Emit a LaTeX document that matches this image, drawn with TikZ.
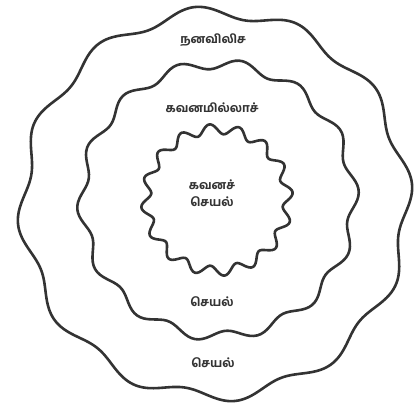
\documentclass[tikz,border=0pt]{standalone}
\usepackage{fontspec}
\newfontfamily\tamil[Script=Tamil,BoldFont={Hind Madurai Bold}]{Hind Madurai}
\tikzset{
  ring/.style={draw=black!80,line width=2.6pt,line join=round},
  label/.style={font=\tamil\bfseries\fontsize{12}{13}\selectfont,text=black!80,align=center}
}
\begin{document}
\begin{tikzpicture}[x=1pt,y=1pt]
  \useasboundingbox[fill=white] (0,0) rectangle (414,405);
  % wavy rings
  \draw[ring,shift={(215,201)}] plot[domain=0:360,samples=240,smooth cycle] (\x:{192+6*sin(12*\x+20)});
  \draw[ring,shift={(218,205)}] plot[domain=0:360,samples=240,smooth cycle] (\x:{136+5*sin(14*\x+40)});
  \draw[ring,shift={(217,205)}] plot[domain=0:360,samples=240,smooth cycle] (\x:{71+5*sin(16*\x)});
  % labels
  \node[label] (outertop) at (213,365) {நனவிலிச};
  \node[label] (middletop) at (212,297) {கவனமில்லாச்};
  \node[label] (inner) at (212,212) {கவனச்\\[4pt]செயல்};
  \node[label] (middlebottom) at (212,103) {செயல்};
  \node[label] (outerbottom) at (213,42) {செயல்};
\end{tikzpicture}
\end{document}
